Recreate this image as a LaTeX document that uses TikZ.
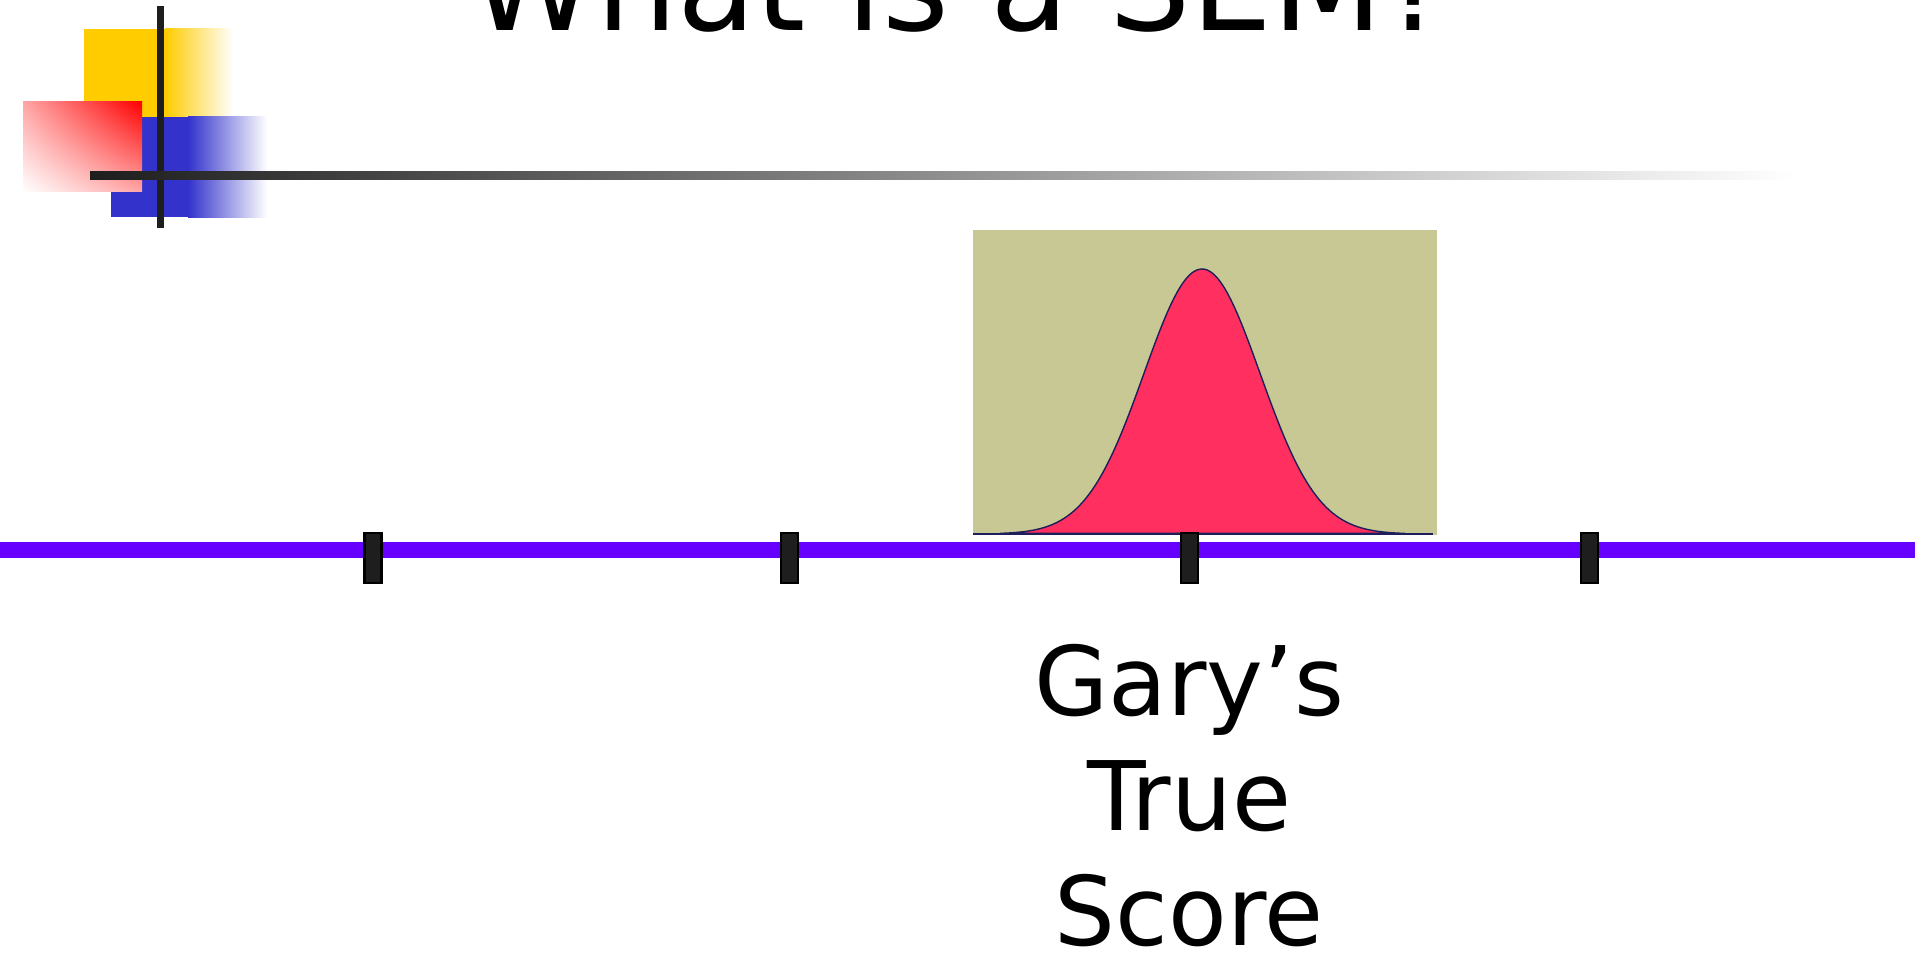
\documentclass[tikz,border=0pt]{standalone}
\usepackage{fontspec}
\setmainfont{DejaVu Sans}
\usetikzlibrary{shadings}

\definecolor{ornyellow}{RGB}{255,204,0}
\definecolor{ornblue}{RGB}{51,51,204}
\definecolor{rulegray}{RGB}{30,30,30}
\definecolor{khaki}{RGB}{200,200,148}
\definecolor{bellred}{RGB}{255,48,96}
\definecolor{bellline}{RGB}{30,30,90}
\definecolor{axispurple}{RGB}{102,0,255}

\begin{document}
\begin{tikzpicture}[
    headline/.style={font=\fontsize{36.5}{44}\selectfont, inner sep=0pt},
    scorelbl/.style={font=\fontsize{27.3}{32.7}\selectfont, align=center,
                     inner sep=0pt},
    tick/.style={draw=black, fill=rulegray, line width=0.6pt,
                 minimum width=1.7mm, minimum height=5mm, inner sep=0pt},
    axisline/.style={axispurple, line width=4.5pt}
  ]

  \clip (0,0) rectangle (19.15,-9.53);

  % Corner ornament of the slide.
  \fill[ornyellow] (0.84,-0.29) rectangle (1.65,-1.17);
  \shade[left color=ornyellow, right color=white] (1.65,-0.29) rectangle (2.33,-1.17);
  \fill[ornblue] (1.11,-1.17) rectangle (1.88,-2.17);
  \shade[left color=ornblue, right color=white] (1.88,-1.17) rectangle (2.67,-2.18);
  \shade[upper right=red, lower left=white, upper left=red!35, lower right=red!35]
    (0.23,-1.02) rectangle (1.42,-1.92);
  \fill[rulegray] (1.57,-0.06) rectangle (1.64,-2.28);
  \shade[left color=rulegray, right color=white] (0.90,-1.72) rectangle (17.95,-1.80);

  \node[headline, anchor=base] (head) at (9.60,-0.31) {What is a SEM?};

  % Error distribution round the true score.
  \fill[khaki] (9.73,-2.30) rectangle (14.37,-5.35);
  \filldraw[fill=bellred, draw=bellline, line width=0.4pt]
    plot[domain=10.0:14.05, samples=120, smooth]
      (\x, {-5.34+2.65*exp(-((\x-12.02)^2)/(2*0.58^2))}) -- cycle;
  \draw[bellline, line width=0.7pt] (9.73,-5.34) -- (14.33,-5.34);

  \draw[axisline] (0,-5.50) -- (19.15,-5.50);
  \foreach \x/\n in {3.73/a, 7.895/b, 11.895/c, 15.895/d}
    \node[tick] (tick\n) at (\x,-5.58) {};

  \node[scorelbl, anchor=north] (gary) at (11.89,-6.44) {Gary’s\\True\\Score};

\end{tikzpicture}
\end{document}
